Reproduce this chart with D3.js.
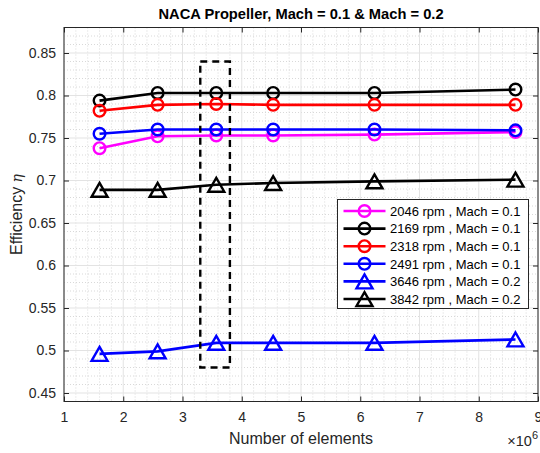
<!DOCTYPE html>
<html>
<head>
<meta charset="utf-8">
<script src="https://cdn.jsdelivr.net/npm/d3@7"></script>
<style>
  html, body { margin: 0; padding: 0; background: #fff; }
  svg { display: block; font-family: "Liberation Sans", Arial, Helvetica, sans-serif; }
</style>
</head>
<body>
<svg id="chart" width="540" height="453"></svg>
<script>
// Mesh sizes (number of elements) for each run
const elements = [1.6e6, 2.58e6, 3.57e6, 4.53e6, 6.24e6, 8.62e6];

// Efficiency per rotational speed
const eff2046 = [0.738, 0.752, 0.753, 0.753, 0.754, 0.757];
const eff2169 = [0.794, 0.803, 0.803, 0.803, 0.803, 0.807];
const eff2318 = [0.782, 0.789, 0.790, 0.789, 0.789, 0.789];
const eff2491 = [0.755, 0.760, 0.760, 0.760, 0.760, 0.759];
const eff3646 = [0.496, 0.499, 0.509, 0.509, 0.509, 0.513];
const eff3842 = [0.689, 0.689, 0.695, 0.697, 0.699, 0.701];

const seriesLabels = [
  "2046 rpm , Mach = 0.1",
  "2169 rpm , Mach = 0.1",
  "2318 rpm , Mach = 0.1",
  "2491 rpm , Mach = 0.1",
  "3646 rpm , Mach = 0.2",
  "3842 rpm , Mach = 0.2"
];
const seriesValues = [eff2046, eff2169, eff2318, eff2491, eff3646, eff3842];
const seriesColors = ["#ff00ff", "#000000", "#ff0000", "#0000ff", "#0000ff", "#000000"];
const seriesMarkers = ["circle", "circle", "circle", "circle", "triangle", "triangle"];

const xTicks = [1, 2, 3, 4, 5, 6, 7, 8, 9];          // in units of 10^6
const yTicks = [0.45, 0.5, 0.55, 0.6, 0.65, 0.7, 0.75, 0.8, 0.85];

// Highlighted region (dashed box) around the chosen mesh
const boxX = [3.3e6, 3.8e6];
const boxY = [0.48, 0.84];

const svg = d3.select("#chart");
const pL = 64, pR = 538, pT = 27.5, pB = 401.5;

const x = d3.scaleLinear().domain([1e6, 9e6]).range([pL, pR]);
const y = d3.scaleLinear().domain([0.44, 0.88]).range([pB, pT]);

// Minor grid (dotted)
const xMinor = d3.range(1, 9, 0.2).map(v => Math.round(v * 10) / 10).filter(v => Math.abs(v - Math.round(v)) > 0.05).map(v => v * 1e6);
const yMinor = d3.range(44, 88, 1).filter(v => v % 5 !== 0).map(v => v / 100);
const grid = svg.append("g");
grid.selectAll(".xm").data(xMinor).join("line")
  .attr("x1", d => x(d)).attr("x2", d => x(d)).attr("y1", pT).attr("y2", pB)
  .attr("stroke", "#cfcfcf").attr("stroke-width", 0.8).attr("stroke-dasharray", "1,2");
grid.selectAll(".ym").data(yMinor).join("line")
  .attr("x1", pL).attr("x2", pR).attr("y1", d => y(d)).attr("y2", d => y(d))
  .attr("stroke", "#cfcfcf").attr("stroke-width", 0.8).attr("stroke-dasharray", "1,2");

// Major grid
grid.selectAll(".xg").data(xTicks).join("line")
  .attr("x1", d => x(d * 1e6)).attr("x2", d => x(d * 1e6)).attr("y1", pT).attr("y2", pB)
  .attr("stroke", "#e3e3e3").attr("stroke-width", 1);
grid.selectAll(".yg").data(yTicks).join("line")
  .attr("x1", pL).attr("x2", pR).attr("y1", d => y(d)).attr("y2", d => y(d))
  .attr("stroke", "#e3e3e3").attr("stroke-width", 1);

// Axes with inward ticks
const tickLen = 5;
const xAxisB = d3.axisBottom(x).tickValues(xTicks.map(d => d * 1e6)).tickFormat(d => d / 1e6).tickSizeInner(-tickLen).tickSizeOuter(0).tickPadding(11);
const xAxisT = d3.axisTop(x).tickValues(xTicks.map(d => d * 1e6)).tickFormat("").tickSizeInner(-tickLen).tickSizeOuter(0);
const yAxisL = d3.axisLeft(y).tickValues(yTicks).tickFormat(d => String(+d.toFixed(2))).tickSizeInner(-tickLen).tickSizeOuter(0).tickPadding(8);
const yAxisR = d3.axisRight(y).tickValues(yTicks).tickFormat("").tickSizeInner(-tickLen).tickSizeOuter(0);

function styleAxis(g) {
  g.select(".domain").remove();
  g.selectAll("line").attr("stroke", "#262626").attr("stroke-width", 1);
  g.selectAll("text").attr("fill", "#262626").attr("font-size", 14).attr("font-family", "Liberation Sans, Arial, sans-serif");
}
svg.append("g").attr("transform", `translate(0,${pB})`).call(xAxisB).call(styleAxis);
svg.append("g").attr("transform", `translate(0,${pT})`).call(xAxisT).call(styleAxis);
svg.append("g").attr("transform", `translate(${pL},0)`).call(yAxisL).call(styleAxis);
svg.append("g").attr("transform", `translate(${pR},0)`).call(yAxisR).call(styleAxis);

// Axes frame
svg.append("rect").attr("x", pL).attr("y", pT).attr("width", pR - pL).attr("height", pB - pT)
  .attr("fill", "none").attr("stroke", "#262626").attr("stroke-width", 1);

// Marker shapes
const triangleType = {
  draw(ctx, size) {
    const s = Math.sqrt(size);       // side length
    const h = s * 0.866;
    ctx.moveTo(0, -h / 2);
    ctx.lineTo(s / 2, h / 2);
    ctx.lineTo(-s / 2, h / 2);
    ctx.closePath();
  }
};
function markerPath(kind) {
  return kind === "circle"
    ? d3.symbol().type(d3.symbolCircle).size(Math.PI * 5.8 * 5.8)()
    : d3.symbol().type(triangleType).size(16 * 16)();
}

// Series lines and markers
const line = d3.line().x(d => x(d[0])).y(d => y(d[1]));
const plot = svg.append("g");
seriesValues.forEach((vals, i) => {
  const pts = elements.map((e, j) => [e, vals[j]]);
  plot.append("path").datum(pts)
    .attr("d", line).attr("fill", "none")
    .attr("stroke", seriesColors[i]).attr("stroke-width", 2.6);
  plot.selectAll(null).data(pts).join("path")
    .attr("d", markerPath(seriesMarkers[i]))
    .attr("transform", d => `translate(${x(d[0])},${y(d[1])})`)
    .attr("fill", "none").attr("stroke", seriesColors[i]).attr("stroke-width", 2.4);
});

// Dashed highlight box
svg.append("rect")
  .attr("x", x(boxX[0])).attr("y", y(boxY[1]))
  .attr("width", x(boxX[1]) - x(boxX[0])).attr("height", y(boxY[0]) - y(boxY[1]))
  .attr("fill", "none").attr("stroke", "#000").attr("stroke-width", 2.4)
  .attr("stroke-dasharray", "7,5");

// Legend
const lg = svg.append("g");
const lgX = 337.5, lgY = 199.5, lgW = 191, lgH = 109, rowH = 17.6;
lg.append("rect").attr("x", lgX).attr("y", lgY).attr("width", lgW).attr("height", lgH)
  .attr("fill", "#fff").attr("stroke", "#262626").attr("stroke-width", 1);
seriesLabels.forEach((lab, i) => {
  const cy = lgY + 11.5 + i * rowH;
  lg.append("line").attr("x1", lgX + 6).attr("x2", lgX + 48).attr("y1", cy).attr("y2", cy)
    .attr("stroke", seriesColors[i]).attr("stroke-width", 2.6);
  lg.append("path").attr("d", markerPath(seriesMarkers[i]))
    .attr("transform", `translate(${lgX + 27},${cy})`)
    .attr("fill", "none").attr("stroke", seriesColors[i]).attr("stroke-width", 2.4);
  lg.append("text").attr("x", lgX + 52.5).attr("y", cy + 4.7)
    .attr("font-size", 13).attr("fill", "#000").text(lab);
});

// Title and axis labels
svg.append("text").attr("x", (pL + pR) / 2).attr("y", 19)
  .attr("text-anchor", "middle").attr("font-size", 14.7).attr("font-weight", "bold")
  .attr("fill", "#000").text("NACA Propeller, Mach = 0.1 & Mach = 0.2");

svg.append("text").attr("x", (pL + pR) / 2).attr("y", 444)
  .attr("text-anchor", "middle").attr("font-size", 16).attr("fill", "#262626")
  .text("Number of elements");

const ex = svg.append("text").attr("x", pR).attr("y", 446).attr("text-anchor", "end")
  .attr("font-size", 14.5).attr("fill", "#262626");
ex.append("tspan").text("×10");
ex.append("tspan").attr("dy", -7).attr("font-size", 11).text("6");

const yl = svg.append("text").attr("transform", `translate(22,${(pT + pB) / 2}) rotate(-90)`)
  .attr("text-anchor", "middle").attr("font-size", 16).attr("fill", "#262626");
yl.append("tspan").text("Efficiency  ");
yl.append("tspan").attr("font-style", "italic").attr("font-family", "DejaVu Serif, serif").attr("font-size", 14).text("η");
</script>
</body>
</html>
